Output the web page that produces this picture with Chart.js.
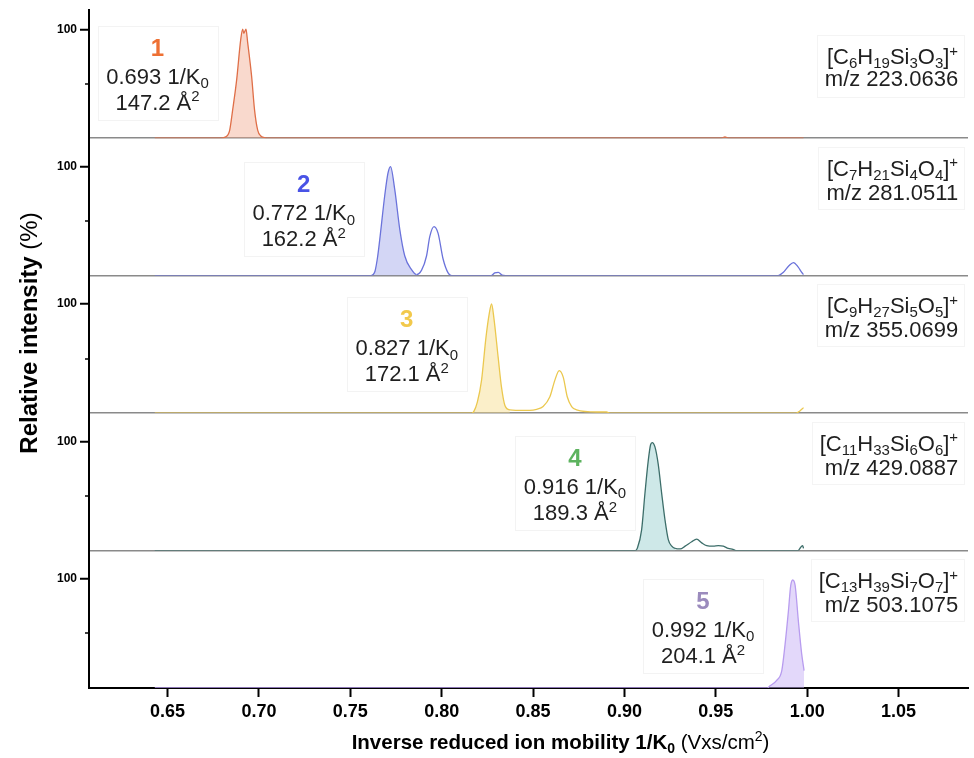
<!DOCTYPE html>
<html>
<head>
<meta charset="utf-8">
<script src="https://cdn.jsdelivr.net/npm/chart.js@4.4.0/dist/chart.umd.min.js"></script>
<style>
  html, body { margin: 0; padding: 0; background: #fff; }
</style>
</head>
<body>
<canvas id="grafica" width="974" height="758"></canvas>
<script>
// ===== Datos =====
const xTicks = [0.65, 0.70, 0.75, 0.80, 0.85, 0.90, 0.95, 1.00, 1.05];
const yTicks = [0, 50, 100];

// 1/K0 (Vs/cm2) e intensidad relativa (%) de cada traza
const mob1 = [0.643, 0.679, 0.6815, 0.683, 0.684, 0.6856, 0.6878, 0.690, 0.6911, 0.6917, 0.6923, 0.6929, 0.6938, 0.696, 0.6976, 0.6993, 0.701, 0.703, 0.705, 0.953, 0.955, 0.957, 0.998];
const int1 = [0, 0, 1, 3, 7.5, 26, 54, 91, 101, 97, 99, 101, 89, 57, 26, 7.5, 2, 0.5, 0, 0, 1.2, 0, 0];

const mob2 = [0.643, 0.761, 0.7625, 0.7635, 0.765, 0.7661, 0.7688, 0.7706, 0.772, 0.7743, 0.7771, 0.7798, 0.7835, 0.7862, 0.789, 0.7917, 0.7935, 0.7958, 0.798, 0.8008, 0.8035, 0.8054, 0.827, 0.829, 0.831, 0.833, 0.835, 0.984, 0.987, 0.990, 0.9925, 0.995, 0.997, 0.998];
const int2 = [0, 0, 1, 4, 18, 33, 73, 94, 100, 79, 42, 18, 5.5, 1, 5, 18, 36, 45, 39, 15, 2.5, 0, 0, 2.5, 3, 0.5, 0, 0, 3, 9, 12, 8, 3, 1];

const mob3 = [0.643, 0.8165, 0.8176, 0.8195, 0.8218, 0.8242, 0.826, 0.8273, 0.8285, 0.8309, 0.8327, 0.8346, 0.8373, 0.845, 0.8482, 0.852, 0.8555, 0.8592, 0.8619, 0.8643, 0.8665, 0.8687, 0.8711, 0.8738, 0.8848, 0.8902, 0.892, 0.994, 0.996, 0.998];
const int3 = [0, 0, 1.5, 10, 30, 69, 91, 100, 88, 51, 24, 7, 3, 2.5, 2.5, 3.5, 6, 15, 30, 39, 33, 15, 6, 3, 1, 1, 0, 0, 2, 5];

const mob4 = [0.643, 0.906, 0.907, 0.9094, 0.9112, 0.913, 0.9143, 0.9152, 0.9167, 0.9185, 0.9204, 0.9222, 0.924, 0.9259, 0.9277, 0.9305, 0.9332, 0.9368, 0.9395, 0.9423, 0.945, 0.9486, 0.9514, 0.9541, 0.9568, 0.9594, 0.961, 0.995, 0.9965, 0.9975, 0.998];
const int4 = [0, 0, 2, 19, 52, 82, 97, 99, 95, 79, 52, 28, 10, 4, 2, 1.5, 4, 8, 10.5, 7, 4.5, 4, 4.5, 4, 2, 1, 0, 0, 3, 4.5, 2];

const mob5 = [0.643, 0.978, 0.9797, 0.9833, 0.9861, 0.9879, 0.9897, 0.991, 0.9921, 0.9934, 0.9952, 0.997, 0.9983];
const int5 = [0, 0, 2, 7, 16, 40, 70, 94, 99, 94, 61, 31, 16];

// tramo de 1/K0 del pico principal (el único sombreado)
const picoPrincipal = [[0.679, 0.705], [0.761, 0.7862], [0.8165, 0.8373], [0.906, 0.9277], [0.978, 0.999]];

const compuestos = ['1', '2', '3', '4', '5'];
const k0Apex = ['0.693', '0.772', '0.827', '0.916', '0.992'];
const ccs = ['147.2', '162.2', '172.1', '189.3', '204.1'];
const formulas = ['C6H19Si3O3', 'C7H21Si4O4', 'C9H27Si5O5', 'C11H33Si6O6', 'C13H39Si7O7'];
const mz = ['223.0636', '281.0511', '355.0699', '429.0887', '503.1075'];

// ===== Estilo =====
const FAM = '"Liberation Sans", Arial, Helvetica, sans-serif';
const paneles = ['p1', 'p2', 'p3', 'p4', 'p5'];
const colLinea = ['#df6f48', '#6b73db', '#ebc84f', '#3d6e6a', '#b89cef'];
const colRelleno = ['rgba(241,165,135,0.42)', 'rgba(150,158,232,0.42)', 'rgba(246,220,135,0.45)', 'rgba(165,214,214,0.55)', 'rgba(200,178,245,0.5)'];
const colNumero = ['#ee7033', '#4953e6', '#f2c94c', '#5db35f', '#9b8bbd'];

// posición de las cajas (valor de 1/K0 del centro, % del panel en el borde superior)
const cajaPico = [
  { x: 0.6445, y: 104 }, { x: 0.7245, y: 104 }, { x: 0.7809, y: 106 },
  { x: 0.8729, y: 105 }, { x: 0.943, y: 100 }
];
// posición de las fórmulas (borde derecho en 1/K0, % de cada línea)
const cajaFormula = { x: 1.0826, linea1: [76, 99, 99, 99, 99], linea2: [56, 77, 77, 77, 77] };

// ===== Texto con sub/superíndices =====
function texto(ctx, partes, x, y, alinear, tam) {
  const fuente = p => (p[2] ? 'bold ' : '') + (p[1] === 'n' ? tam : Math.round(tam * 0.66)) + 'px ' + FAM;
  let ancho = 0;
  partes.forEach(p => { ctx.font = fuente(p); ancho += ctx.measureText(p[0]).width; });
  let px = alinear === 'right' ? x - ancho : alinear === 'center' ? x - ancho / 2 : x;
  ctx.textAlign = 'left';
  ctx.textBaseline = 'alphabetic';
  partes.forEach(p => {
    ctx.font = fuente(p);
    const dy = p[1] === 'sub' ? tam * 0.2 : p[1] === 'sup' ? -tam * 0.38 : 0;
    ctx.fillText(p[0], px, y + dy);
    px += ctx.measureText(p[0]).width;
  });
  return ancho;
}

function partesFormula(f) {
  const partes = [['[', 'n']];
  f.match(/[A-Za-z]+|\d+/g).forEach(t => partes.push([t, /\d/.test(t) ? 'sub' : 'n']));
  partes.push([']', 'n'], ['+', 'sup']);
  return partes;
}

const rotulos = {
  id: 'rotulos',
  afterDraw(chart) {
    const ctx = chart.ctx;
    const sx = chart.scales.x;
    ctx.save();

    // marcas cortas al 50 %
    paneles.forEach(id => {
      const s = chart.scales[id];
      const y = Math.round(s.getPixelForValue(50));
      ctx.strokeStyle = '#000';
      ctx.lineWidth = 1.5;
      ctx.beginPath();
      ctx.moveTo(s.right - 4, y);
      ctx.lineTo(s.right, y);
      ctx.stroke();
    });

    paneles.forEach((id, i) => {
      const s = chart.scales[id];
      // caja con número, 1/K0 y CCS
      const cx = sx.getPixelForValue(cajaPico[i].x);
      const top = s.getPixelForValue(cajaPico[i].y);
      ctx.strokeStyle = '#f3f3f3';
      ctx.lineWidth = 1;
      ctx.strokeRect(Math.round(cx - 60) + 0.5, Math.round(top) + 0.5, 120, 94);
      ctx.fillStyle = colNumero[i];
      texto(ctx, [[compuestos[i], 'n', true]], cx, top + 30, 'center', 24);
      ctx.fillStyle = '#1f1f1f';
      texto(ctx, [[k0Apex[i] + ' 1/K', 'n'], ['0', 'sub']], cx, top + 58, 'center', 22);
      texto(ctx, [[ccs[i] + ' Å', 'n'], ['2', 'sup']], cx, top + 84, 'center', 22);

      // fórmula y m/z
      const xd = sx.getPixelForValue(cajaFormula.x);
      const y1 = s.getPixelForValue(cajaFormula.linea1[i]) + 8;
      const y2 = s.getPixelForValue(cajaFormula.linea2[i]) + 8;
      const a1 = texto(ctx, partesFormula(formulas[i]), xd, y1, 'right', 22);
      const a2 = texto(ctx, [['m/z ' + mz[i], 'n']], xd, y2, 'right', 22);
      const ancho = Math.max(a1, a2) + 14;
      ctx.strokeStyle = '#f4f4f4';
      ctx.strokeRect(Math.round(xd + 6 - ancho) + 0.5, Math.round(y1 - 29) + 0.5, Math.round(ancho), 62);
    });

    // título eje y
    ctx.fillStyle = '#000';
    ctx.save();
    ctx.translate(37, 333);
    ctx.rotate(-Math.PI / 2);
    texto(ctx, [['Relative intensity ', 'n', true], ['(%)', 'n']], 0, 0, 'center', 24);
    ctx.restore();

    // título eje x
    texto(ctx, [['Inverse reduced ion mobility 1/K', 'n', true], ['0', 'sub', true], [' (Vxs/cm', 'n'], ['2', 'sup'], [')', 'n']],
      sx.getPixelForValue(0.865), 749, 'center', 20.5);
    ctx.restore();
  }
};

// ===== Escalas =====
const escalas = {
  x: {
    type: 'linear', position: 'bottom', min: 0.607, max: 1.088,
    afterBuildTicks: s => { s.ticks = xTicks.map(v => ({ value: v })); },
    afterFit: s => { s.height = 70; },
    ticks: { callback: v => v.toFixed(2), font: { size: 18, weight: 'bold', family: FAM }, color: '#000', padding: 4, maxRotation: 0, autoSkip: false },
    grid: { drawOnChartArea: false, tickLength: 9, tickWidth: 2, tickColor: '#000' },
    border: { color: '#000', width: 2 }
  }
};
// se agregan de abajo hacia arriba: la última escala queda arriba de la pila
[...paneles].reverse().forEach(id => {
  const arriba = id === 'p1';
  escalas[id] = {
    type: 'linear', position: 'left', stack: 'pila', stackWeight: arriba ? 128 : 137.5,
    min: 0, max: arriba ? 118.5 : 126,
    afterBuildTicks: s => { s.ticks = yTicks.map(v => ({ value: v })); },
    afterFit: s => { s.width = 89; },
    ticks: { callback: v => v === 100 ? '100' : '', font: { size: 12, weight: 'bold', family: FAM }, color: '#000', padding: 3 },
    grid: {
      color: c => c.tick && c.tick.value === 0 ? '#8a8a8a' : 'rgba(0,0,0,0)',
      lineWidth: 1.5, tickLength: 9, tickWidth: 2,
      tickColor: c => c.tick && c.tick.value === 100 ? '#000' : 'rgba(0,0,0,0)'
    },
    border: { color: '#000', width: 2 }
  };
});

// ===== Gráfica =====
const series = [[mob1, int1], [mob2, int2], [mob3, int3], [mob4, int4], [mob5, int5]];

new Chart(document.getElementById('grafica'), {
  type: 'line',
  data: {
    datasets: series.map(([xs, ys], i) => ({
      label: compuestos[i],
      data: xs.map((x, j) => ({ x, y: ys[j] })),
      yAxisID: paneles[i],
      borderColor: colLinea[i],
      backgroundColor: colRelleno[i],
      borderWidth: 1.3,
      pointRadius: 0,
      fill: 'origin',
      cubicInterpolationMode: 'monotone',
      segment: {
        // solo se sombrea el pico principal
        backgroundColor: c => {
          const [lo, hi] = picoPrincipal[i];
          return c.p0.parsed.x >= lo && c.p1.parsed.x <= hi ? colRelleno[i] : 'rgba(0,0,0,0)';
        }
      }
    }))
  },
  options: {
    responsive: false,
    animation: false,
    layout: { padding: { top: 10, right: 6, left: 0, bottom: 0 } },
    plugins: { legend: { display: false }, tooltip: { enabled: false } },
    scales: escalas
  },
  plugins: [rotulos]
});
</script>
</body>
</html>
